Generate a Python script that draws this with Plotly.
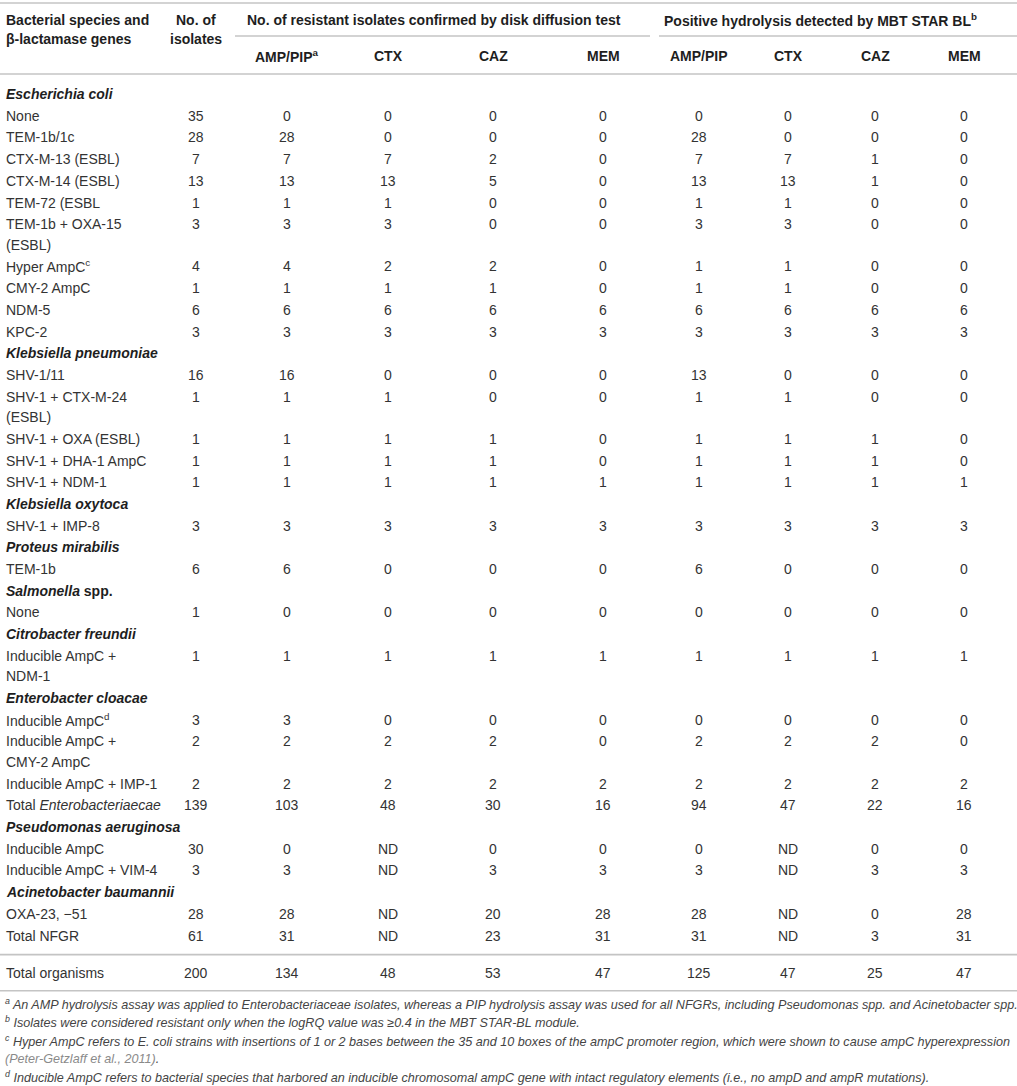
import plotly.graph_objects as go

W, H = 1017, 1086

# ---------------- data ----------------
row_labels = [
    "<i>Escherichia coli</i>",
    "None", "TEM-1b/1c", "CTX-M-13 (ESBL)", "CTX-M-14 (ESBL)", "TEM-72 (ESBL",
    "TEM-1b + OXA-15<br>(ESBL)", "Hyper AmpC<sup>c</sup>", "CMY-2 AmpC", "NDM-5", "KPC-2",
    "<i>Klebsiella pneumoniae</i>",
    "SHV-1/11", "SHV-1 + CTX-M-24<br>(ESBL)", "SHV-1 + OXA (ESBL)", "SHV-1 + DHA-1 AmpC", "SHV-1 + NDM-1",
    "<i>Klebsiella oxytoca</i>",
    "SHV-1 + IMP-8",
    "<i>Proteus mirabilis</i>",
    "TEM-1b",
    "<i>Salmonella</i> spp.",
    "None",
    "<i>Citrobacter freundii</i>",
    "Inducible AmpC +<br>NDM-1",
    "<i>Enterobacter cloacae</i>",
    "Inducible AmpC<sup>d</sup>", "Inducible AmpC +<br>CMY-2 AmpC", "Inducible AmpC + IMP-1",
    "Total <i>Enterobacteriaecae</i>",
    "<i>Pseudomonas aeruginosa</i>",
    "Inducible AmpC", "Inducible AmpC + VIM-4",
    "<i>Acinetobacter baumannii</i>",
    "OXA-23, −51", "Total NFGR",
    "Total organisms",
]
is_group = [
    True,
    False, False, False, False, False, False, False, False, False, False,
    True,
    False, False, False, False, False,
    True, False,
    True, False,
    True, False,
    True, False,
    True, False, False, False, False,
    True, False, False,
    True, False, False,
    False,
]
N_ = None
isolates = [N_, 35, 28, 7, 13, 1, 3, 4, 1, 6, 3, N_, 16, 1, 1, 1, 1, N_, 3, N_, 6, N_, 1, N_, 1,
            N_, 3, 2, 2, 139, N_, 30, 3, N_, 28, 61, 200]
disk_amp = [N_, 0, 28, 7, 13, 1, 3, 4, 1, 6, 3, N_, 16, 1, 1, 1, 1, N_, 3, N_, 6, N_, 0, N_, 1,
            N_, 3, 2, 2, 103, N_, 0, 3, N_, 28, 31, 134]
disk_ctx = [N_, 0, 0, 7, 13, 1, 3, 2, 1, 6, 3, N_, 0, 1, 1, 1, 1, N_, 3, N_, 0, N_, 0, N_, 1,
            N_, 0, 2, 2, 48, N_, "ND", "ND", N_, "ND", "ND", 48]
disk_caz = [N_, 0, 0, 2, 5, 0, 0, 2, 1, 6, 3, N_, 0, 0, 1, 1, 1, N_, 3, N_, 0, N_, 0, N_, 1,
            N_, 0, 2, 2, 30, N_, 0, 3, N_, 20, 23, 53]
disk_mem = [N_, 0, 0, 0, 0, 0, 0, 0, 0, 6, 3, N_, 0, 0, 0, 0, 1, N_, 3, N_, 0, N_, 0, N_, 1,
            N_, 0, 0, 2, 16, N_, 0, 3, N_, 28, 31, 47]
mbt_amp = [N_, 0, 28, 7, 13, 1, 3, 1, 1, 6, 3, N_, 13, 1, 1, 1, 1, N_, 3, N_, 6, N_, 0, N_, 1,
           N_, 0, 2, 2, 94, N_, 0, 3, N_, 28, 31, 125]
mbt_ctx = [N_, 0, 0, 7, 13, 1, 3, 1, 1, 6, 3, N_, 0, 1, 1, 1, 1, N_, 3, N_, 0, N_, 0, N_, 1,
           N_, 0, 2, 2, 47, N_, "ND", "ND", N_, "ND", "ND", 47]
mbt_caz = [N_, 0, 0, 1, 1, 0, 0, 0, 0, 6, 3, N_, 0, 0, 1, 1, 1, N_, 3, N_, 0, N_, 0, N_, 1,
           N_, 0, 2, 2, 22, N_, 0, 3, N_, 0, 3, 25]
mbt_mem = [N_, 0, 0, 0, 0, 0, 0, 0, 0, 6, 3, N_, 0, 0, 0, 0, 1, N_, 3, N_, 0, N_, 0, N_, 1,
           N_, 0, 0, 2, 16, N_, 0, 3, N_, 28, 31, 47]

sub_headers = ["AMP/PIP<sup>a</sup>", "CTX", "CAZ", "MEM", "AMP/PIP", "CTX", "CAZ", "MEM"]
group_header_1 = "No. of resistant isolates confirmed by disk diffusion test"
group_header_2 = "Positive hydrolysis detected by MBT STAR BL<sup>b</sup>"
first_header = ["Bacterial species and", "β-lactamase genes"]
iso_header = ["No. of", "isolates"]

footnotes = [
    "<sup>a</sup> An AMP hydrolysis assay was applied to Enterobacteriaceae isolates, whereas a PIP hydrolysis assay was used for all NFGRs, including Pseudomonas spp. and Acinetobacter spp.",
    "<sup>b</sup> Isolates were considered resistant only when the logRQ value was ≥0.4 in the MBT STAR-BL module.",
    "<sup>c</sup> Hyper AmpC refers to E. coli strains with insertions of 1 or 2 bases between the 35 and 10 boxes of the ampC promoter region, which were shown to cause ampC hyperexpression",
    "<span style='color:#8a8a8a'>(Peter-Getzlaff et al., 2011)</span>.",
    "<sup>d</sup> Inducible AmpC refers to bacterial species that harbored an inducible chromosomal ampC gene with intact regulatory elements (i.e., no ampD and ampR mutations).",
]

value_cols = [isolates, disk_amp, disk_ctx, disk_caz, disk_mem, mbt_amp, mbt_ctx, mbt_caz, mbt_mem]

# ---------------- layout constants ----------------
FONT = "Liberation Sans, Arial, Helvetica, sans-serif"
BODY_COLOR = "#333333"
HEAD_COLOR = "#1e1e1e"
LINE_COLOR = "#c4c4c4"
col_x = [196, 287, 388, 493, 603, 699, 788, 875, 964]
label_x = 4
row_h = 21.7
wrap_h = 20.5
first_row_y = 94.0
final_gap = 37.3
foot_y0 = 1004
foot_dy = 18.3

ann = []
shapes = []


def text(x, y, s, anchor="left", size=14, color=BODY_COLOR):
    ann.append(dict(x=x, y=y, xref="x", yref="y", text=s, showarrow=False,
                    xanchor=anchor, yanchor="middle",
                    font=dict(family=FONT, size=size, color=color)))


def hline(y, x0=0, x1=W, width=1.6):
    shapes.append(dict(type="line", xref="x", yref="y", x0=x0, x1=x1, y0=y, y1=y,
                       line=dict(color=LINE_COLOR, width=width)))


# header
hline(3)
text(label_x, 20, "<b>" + first_header[0] + "</b>", color=HEAD_COLOR)
text(label_x, 39, "<b>" + first_header[1] + "</b>", color=HEAD_COLOR)
text(col_x[0], 20, "<b>" + iso_header[0] + "</b>", anchor="center", color=HEAD_COLOR)
text(col_x[0], 39, "<b>" + iso_header[1] + "</b>", anchor="center", color=HEAD_COLOR)
text(245, 20, "<b>" + group_header_1 + "</b>", color=HEAD_COLOR)
text(662, 20, "<b>" + group_header_2 + "</b>", color=HEAD_COLOR)
hline(36, 235, 650)
hline(36, 659, W)
for i, sh in enumerate(sub_headers):
    text(col_x[i + 1], 56, "<b>" + sh + "</b>", anchor="center", color=HEAD_COLOR)
hline(74)

# body
y = first_row_y
n = len(row_labels)
for r in range(n):
    if r == n - 1:
        y_prev = y - row_h
        y = y_prev + final_gap
        hline((y_prev + y) / 2 + 0.5)
        hline(y + 18)
    lines = row_labels[r].split("<br>")
    for k, ln in enumerate(lines):
        s = "<b>" + ln + "</b>" if is_group[r] else ln
        text(label_x, y + k * wrap_h, s, color=HEAD_COLOR if is_group[r] else BODY_COLOR)
    if not is_group[r]:
        for c, col in enumerate(value_cols):
            v = col[r]
            if v is not None:
                text(col_x[c], y, str(v), anchor="center")
    y += row_h + wrap_h * (len(lines) - 1)

# footnotes
for i, fn in enumerate(footnotes):
    ann.append(dict(x=3, y=foot_y0 + i * foot_dy, xref="x", yref="y",
                    text="<i>" + fn + "</i>", showarrow=False, xanchor="left", yanchor="middle",
                    font=dict(family=FONT, size=12.6, color="#444444")))

fig = go.Figure()
fig.update_layout(
    width=W, height=H, margin=dict(l=0, r=0, t=0, b=0),
    paper_bgcolor="white", plot_bgcolor="white",
    xaxis=dict(range=[0, W], visible=False, fixedrange=True),
    yaxis=dict(range=[H, 0], visible=False, fixedrange=True),
    annotations=ann, shapes=shapes, showlegend=False,
)
fig.write_html(
    "out.html",
    config={"displayModeBar": False},
    post_script="document.body.style.margin='0';document.body.style.overflow='hidden';",
)
